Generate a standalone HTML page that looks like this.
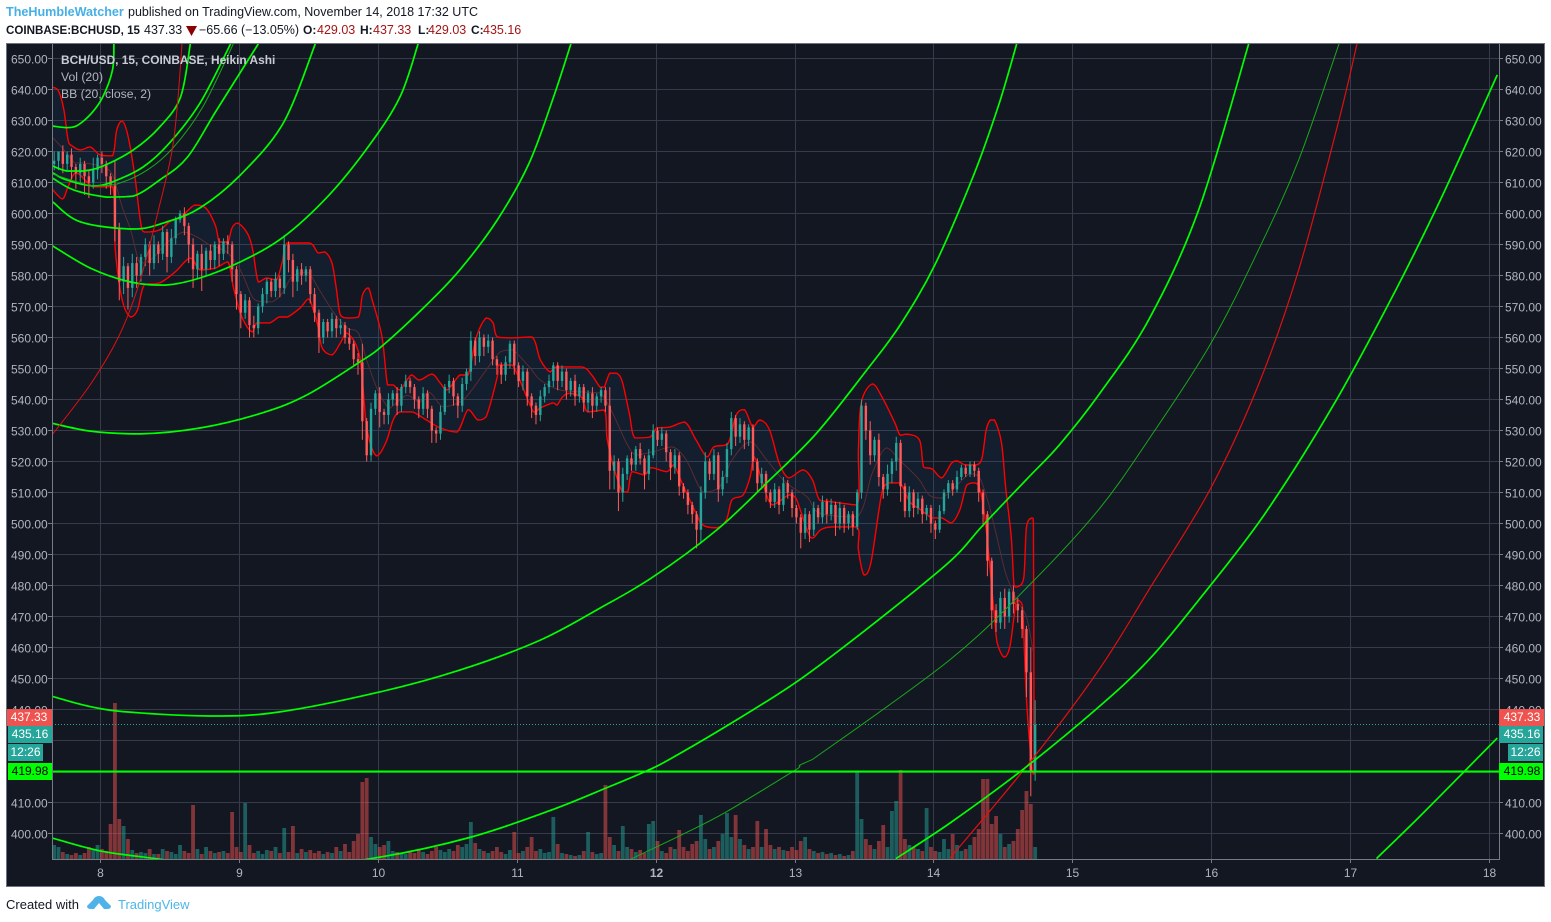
<!DOCTYPE html>
<html>
<head>
<meta charset="utf-8">
<title>BCHUSD chart</title>
<style>
html,body{margin:0;padding:0;background:#fff;width:1551px;height:922px;overflow:hidden}
svg{display:block;font-family:"Liberation Sans",sans-serif}
.ax{font-size:12px;fill:#b2b5be}
.hd{font-size:12.5px;fill:#131722}
.hdb{font-size:12px;font-weight:bold;fill:#131722}
.red{fill:#a31515}
.box{font-size:12px;text-anchor:middle}
</style>
</head>
<body>
<svg id="root" xmlns="http://www.w3.org/2000/svg" width="1551" height="922" viewBox="0 0 1551 922">
  <text x="6" y="16" style="font-size:12.6px;fill:#45b0e6;font-weight:bold">TheHumbleWatcher</text>
  <text x="128" y="16" class="hd">published on TradingView.com, November 14, 2018 17:32 UTC</text>
  <text x="6" y="34" style="font-size:11.6px;font-weight:bold;fill:#131722">COINBASE:BCHUSD, 15</text>
  <text x="144" y="34" class="hd">437.33</text>
  <polygon points="186,26 197,26 191.5,36" fill="#8b0000"/>
  <text x="199" y="34" class="hd">−65.66 (−13.05%)</text>
  <text y="34" class="hd"><tspan x="303" class="hdb">O:</tspan><tspan x="317" class="red">429.03</tspan><tspan x="360" class="hdb">H:</tspan><tspan x="373" class="red">437.33</tspan><tspan x="418" class="hdb">L:</tspan><tspan x="428" class="red">429.03</tspan><tspan x="471" class="hdb">C:</tspan><tspan x="483" class="red">435.16</tspan></text>

  <rect x="6.5" y="43.5" width="1538" height="843" fill="#131722" stroke="#6f7280"/>
  <defs><clipPath id="plotClip"><rect x="52" y="44" width="1447" height="815"/></clipPath></defs>
  <g id="gridLayer"></g>
  <g id="plotLayer" clip-path="url(#plotClip)"></g>
  <g id="axisLayer"></g>

  <text x="61" y="64" style="font-size:11.9px;font-weight:bold;fill:#c9ccd4">BCH/USD, 15, COINBASE, Heikin Ashi</text>
  <text x="61" y="81" style="font-size:12.2px;fill:#b2b5be">Vol (20)</text>
  <text x="61" y="98" style="font-size:12.2px;fill:#b2b5be">BB (20, close, 2)</text>

  <g>
    <rect x="7" y="709" width="45" height="17" fill="#ef5350"/>
    <text x="29" y="721" class="box" fill="#fff">437.33</text>
    <rect x="8" y="726" width="44" height="17" fill="#26a69a"/>
    <text x="30" y="738" class="box" fill="#fff">435.16</text>
    <rect x="8" y="744" width="35" height="17" fill="#26a69a"/>
    <text x="25.5" y="756" class="box" fill="#fff">12:26</text>
    <rect x="8" y="763" width="44" height="17" fill="#00ff00"/>
    <text x="30" y="775" class="box" fill="#000">419.98</text>
  </g>
  <g>
    <rect x="1499" y="709" width="45" height="17" fill="#ef5350"/>
    <text x="1522" y="721" class="box" fill="#fff">437.33</text>
    <rect x="1499" y="726" width="44" height="17" fill="#26a69a"/>
    <text x="1522" y="738" class="box" fill="#fff">435.16</text>
    <rect x="1508" y="744" width="35" height="17" fill="#26a69a"/>
    <text x="1525.5" y="756" class="box" fill="#fff">12:26</text>
    <rect x="1499" y="763" width="44" height="17" fill="#00ff00"/>
    <text x="1522" y="775" class="box" fill="#000">419.98</text>
  </g>

  <text x="6" y="909" style="font-size:13px;fill:#131722">Created with</text>
  <path d="M87 906 L93 900 Q95 896 99 896 Q103 896 105 900 L111 906 Q111 909 107 909 L104 909 L99 903 L94 909 L91 909 Q87 909 87 906 Z" fill="#4fb3e8"/>
  <text x="118" y="909" style="font-size:13px;fill:#4db6e8">TradingView</text>
</svg>
<script>
var priceTicks = [650,640,630,620,610,600,590,580,570,560,550,540,530,520,510,500,490,480,470,460,450,440,430,420,410,400];
var hiddenPriceLabels = [430,420];
var dayTicks = [8,9,10,11,12,13,14,15,16,17,18];
var lastClose = 435.16;
var levelPrice = 419.98;

var candleStartDay = 7.67;
var candleStepDays = 1/32;
var firstOpen = 616;
var closes = [
617,620,616,619,615,613,616,612,610,614,618,616,612,609,
595,578,583,576,584,580,586,590,584,590,587,594,586,592,598,600,596,590,582,587,582,588,585,590,587,591,590,
582,574,568,572,564,563,570,574,578,575,579,576,590,585,578,582,580,582,574,568,560,565,562,566,563,564,560,558,553,552,
533,522,537,542,536,535,540,542,538,544,546,544,540,537,542,537,530,529,536,544,546,541,538,545,549,559,554,560,557,559,553,551,548,552,558,
551,546,549,541,538,535,541,544,546,551,546,549,543,546,541,544,539,542,538,541,543,538,
517,520,510,516,521,519,524,521,516,522,530,527,529,523,518,522,512,510,506,503,498,510,520,516,522,511,515,524,534,528,532,527,531,
520,513,516,510,507,511,506,513,510,505,502,497,503,498,505,502,507,503,506,500,505,500,503,499,510,
538,530,522,527,515,511,516,520,526,512,504,510,505,508,503,505,500,498,504,510,513,511,515,518,516,519,517,510,503,
488,472,468,476,470,478,474,472,466,452,420,435];
var wickUp = [
3,0,2,1,2,1,2,1,2,4,1,2,1,1,8,2,3,1,3,2,1,2,1,3,1,2,1,3,1,1,2,1,2,1,3,1,2,1,2,1,2,
1,1,1,2,1,3,1,2,1,1,2,1,3,1,2,1,2,1,1,2,1,1,1,2,1,2,1,3,1,2,
6,1,2,1,2,1,2,1,2,1,2,1,1,1,2,1,1,1,2,1,2,1,1,2,1,3,1,2,1,2,1,1,1,2,1,
1,1,2,1,1,1,2,1,2,1,1,2,1,1,2,1,1,1,2,1,1,1,
6,2,1,2,1,2,1,2,1,2,2,1,2,1,1,2,1,1,1,1,1,2,3,1,2,1,2,2,2,1,2,1,1,
1,1,2,1,1,2,1,2,1,1,1,1,2,1,2,1,2,1,2,1,2,1,1,1,1,
2,1,3,1,2,1,3,1,2,1,1,2,1,2,1,1,1,1,2,1,1,1,2,1,1,1,1,1,1,
1,1,2,2,3,1,2,2,1,1,8,8];
var wickDown = [
2,3,3,2,4,5,3,6,5,2,3,3,4,3,4,6,4,7,3,4,2,3,4,2,3,2,5,2,2,1,3,6,6,3,7,2,3,3,4,2,3,
4,5,5,2,4,3,2,2,3,2,2,3,2,4,5,3,3,2,3,3,5,2,2,2,3,2,2,2,2,4,
6,2,2,2,5,3,3,2,3,2,2,2,3,3,2,3,4,3,2,1,2,3,4,2,2,3,3,2,3,2,2,3,3,2,2,
3,2,3,3,4,3,2,2,2,2,3,2,3,2,3,2,3,3,4,2,2,2,
6,6,6,3,2,2,2,2,5,2,1,2,2,3,4,2,3,2,3,3,6,4,2,2,2,4,2,2,2,3,2,3,2,
3,3,2,3,2,2,3,2,2,3,2,5,2,4,2,2,2,3,2,4,2,3,2,3,1,
2,3,3,2,3,3,2,3,3,5,2,2,3,2,3,2,3,3,1,1,2,2,1,1,1,1,2,3,4,
5,6,3,2,4,2,3,4,3,8,8,3];
var volumes = [
14,12,7,5,4,6,4,6,12,10,14,10,8,35,156,40,33,20,9,6,
7,6,10,5,5,10,8,7,5,14,8,6,54,10,5,12,8,6,7,8,
6,47,12,7,56,14,6,8,5,9,8,12,6,31,7,33,6,10,7,9,
6,8,5,7,6,12,8,15,7,18,25,77,81,22,15,12,14,18,8,7,
6,5,8,6,9,7,5,8,12,9,7,10,8,14,12,15,37,16,10,8,
6,8,12,7,5,9,27,6,8,12,22,8,10,6,7,42,15,6,5,4,
3,4,8,27,7,5,6,74,22,14,8,33,12,10,7,9,6,35,38,18,
8,6,12,10,29,12,8,15,18,44,20,10,12,18,25,46,22,44,20,14,
10,12,38,12,30,14,10,12,9,8,12,9,18,22,10,8,6,7,5,6,
4,5,3,4,8,88,40,20,14,10,18,34,12,48,58,89,20,14,12,10,
8,51,12,8,7,20,10,25,14,8,10,14,22,30,80,80,35,43,25,12,
15,18,30,49,68,55,12];

var upperDays = [7.65,7.70,7.74,7.77,7.80,7.86,7.93,8.00,8.09,8.12,8.16,8.20,8.25,8.29,8.32,8.43,8.50,8.59,8.68,8.76,8.83,8.86,8.92,8.95,8.99,9.06,9.10,9.14,9.20,9.27,9.31,9.35,9.51,9.57,9.62,9.67,9.70,9.73,9.78,9.86,9.89,9.93,9.96,10.03,10.07,10.11,10.16,10.24,10.30,10.39,10.45,10.50,10.59,10.65,10.71,10.78,10.83,10.86,10.97,11.11,11.17,11.24,11.29,11.47,11.54,11.60,11.63,11.67,11.72,11.76,11.81,11.85,11.96,12.01,12.10,12.21,12.29,12.37,12.42,12.52,12.58,12.64,12.70,12.75,12.82,12.89,12.96,13.06,13.13,13.18,13.27,13.45,13.46,13.48,13.56,13.63,13.72,13.76,13.81,13.90,13.93,13.99,14.06,14.13,14.17,14.23,14.31,14.35,14.38,14.41,14.44,14.49,14.52,14.56,14.58,14.60,14.65,14.67,14.71,14.72,14.725];
var upperPrices = [640.8,639.6,633.4,623.7,621.8,620.5,621.5,618.9,618.6,626.9,629.8,625.3,612.4,597.9,594,594.7,597.3,599.2,602.7,601.8,596.2,590.8,590.8,595.3,596.9,593.7,588.2,577.9,579.2,578.5,584,590.5,590.5,587.3,587.6,584,576.3,567.3,566.3,566.6,573.7,576,572.1,560.2,544.7,544.7,543.1,547.9,546.3,548.2,545.3,543.1,547.9,547.9,560.2,566.3,564.7,560.2,559.9,560.2,552.8,548.9,550.5,550.5,547.9,544,544,548.5,548.5,545.7,535.7,527.6,527.9,530.8,531.1,532.7,527,521.5,524.7,525.7,535,536.7,531.1,533.4,530.2,519.5,514.7,517.3,514,507.6,507,506,523.7,538.9,545,540.8,532.7,528.5,528.8,526.9,518.2,517.6,514.7,519.5,520.2,518.9,518.9,521.1,530.2,533.4,533.4,526,511.8,495.7,480.2,479.5,482.4,498.9,501.8,500.2,419];
var lowerDays = [7.66,7.73,7.77,7.83,7.95,8.09,8.11,8.16,8.22,8.27,8.32,8.43,8.54,8.65,8.72,8.83,8.92,8.96,9.01,9.06,9.10,9.13,9.22,9.29,9.35,9.44,9.50,9.53,9.57,9.60,9.67,9.73,9.78,9.87,9.92,9.99,10.06,10.11,10.16,10.25,10.35,10.45,10.57,10.65,10.72,10.78,10.86,10.87,10.97,11.12,11.17,11.26,11.29,11.33,11.38,11.47,11.51,11.63,11.65,11.69,11.72,11.76,11.80,11.83,11.92,11.97,12.08,12.13,12.19,12.29,12.34,12.44,12.51,12.55,12.63,12.68,12.71,12.77,12.84,12.96,13.01,13.09,13.13,13.19,13.27,13.45,13.46,13.50,13.55,13.63,13.68,13.76,13.83,13.90,13.99,14.06,14.13,14.19,14.24,14.29,14.33,14.37,14.40,14.44,14.46,14.51,14.55,14.58,14.60,14.64,14.67,14.71,14.72];
var lowerPrices = [607.6,604.7,608.6,613.1,608.6,608.6,588.2,572.1,566.6,568.9,577,577.6,581.1,585.6,581.8,582.4,584.4,576.3,567.9,563.4,561.8,564.7,564.7,566.6,566.6,569.5,572.4,569.8,563.4,556.6,554.4,558.2,561.4,553.7,531.1,521.8,526.3,533.4,536,536,533.4,530.8,529.5,536.7,533.4,534.4,547.3,551.1,551.1,536,537.3,538.9,538.2,540.8,542,540.5,536,536.6,527.6,519.5,515,510.2,510.2,516.7,515.7,518,516.7,518.9,513.1,503.4,499.5,498.6,501.2,507.6,509.2,515,521.5,513.1,506,509.2,508.2,498,495.3,498,498.9,498.9,491.5,483.4,487.3,510.2,513.1,513.1,507,504.7,501.8,501.8,500.2,504.4,512.4,513.1,511.8,502.1,489.2,469.8,461.4,456.9,460.2,469.8,475.3,473.7,443,420.5,419];
var basisDays = [7.66,7.73,7.82,7.89,8.02,8.09,8.16,8.22,8.27,8.30,8.38,8.48,8.60,8.70,8.79,8.91,9.01,9.10,9.17,9.24,9.32,9.38,9.49,9.58,9.68,9.78,9.86,9.92,9.99,10.06,10.09,10.21,10.30,10.37,10.47,10.59,10.66,10.78,10.88,10.97,11.09,11.17,11.31,11.49,11.60,11.69,11.79,11.86,11.98,12.12,12.22,12.34,12.46,12.55,12.68,12.80,12.94,13.09,13.18,13.45,13.56,13.66,13.76,13.83,13.90,13.97,14.06,14.17,14.26,14.33,14.39,14.45,14.52,14.60,14.67,14.72];
var basisPrices = [624.4,621.1,616.3,616.3,615,612.4,602.1,594.7,586,584,585.6,590.5,594,592.4,589.8,587.6,581.8,572.8,571.5,571.5,574.7,579.5,581.1,575.3,568.2,563.1,561.4,552.7,544,538.2,537.3,541.4,539.2,542.4,537.6,539.2,542.1,549.5,555.3,556,550.5,546.3,543.1,542.4,542.1,535.7,526,522.1,523.1,524.7,520.5,510.2,511.8,520.5,526.3,520.5,513.1,508.6,503.4,502.1,516.3,524.4,520.2,517.3,514,509.2,508.2,512.4,516,515,507.6,497,484,475.3,469.8,458.2];

var arcSmallDays = [7.66,7.76,7.84,7.94,8.02,8.09,8.10];
var arcSmallPrices = [628.2,627.7,628.5,632.4,637.6,646.3,654.7];
var arcBDays = [7.66,7.76,7.88,8.02,8.24,8.43,8.58,8.65];
var arcBPrices = [615.3,613.7,613.7,615.3,620.5,627.9,637.6,654.7];
var arcCDays = [7.66,7.76,7.95,8.09,8.31,8.50,8.72,8.94];
var arcCPrices = [613.1,610.8,608.9,610.2,615,622.7,635.6,654.7];
var arcCThinDays = [7.66,7.95,8.12,8.34,8.53,8.74,8.96];
var arcCThinPrices = [612.7,608.9,609.5,614,621.4,634.4,654.7];
var arcDDays = [7.66,7.81,8.05,8.24,8.43,8.63,8.84,9.14];
var arcDPrices = [611.4,607.6,605.3,605.6,610.8,618.2,633.4,654.7];
var arcEDays = [7.66,7.86,8.24,8.48,8.72,9.01,9.32,9.55];
var arcEPrices = [603.7,597.3,595,597.3,601.8,612.4,629.2,654.7];
var arcFDays = [7.65,7.93,8.22,8.47,8.72,9.01,9.32,9.65,9.94,10.16,10.29];
var arcFPrices = [589.8,582.4,577.9,576.9,579.2,584.4,592.4,606,622.1,637.6,654.7];
var arcGDays = [7.65,7.93,8.29,8.72,9.17,9.49,9.87,10.04,10.35,10.59,10.86,11.09,11.27,11.39];
var arcGPrices = [532.4,529.8,528.9,530.8,535.7,541.5,552.1,557.6,570.5,581.8,597.9,616.3,638.2,654.7];
var arcHDays = [7.65,8.07,8.79,9.29,10.01,10.59,11.17,11.60,11.98,12.44,12.80,13.16,13.52,13.76,14.01,14.29,14.47,14.60];
var arcHPrices = [444.3,439.8,437.9,439.2,445.6,452.7,462.4,472.7,482.7,497.9,513.1,529.2,549.5,564,583.4,612.4,635,654.7];
var arcIDays = [7.65,8.00,8.40,9.15,9.99,10.66,11.24,11.65,11.94,12.10,12.53,13.04,13.61,14.12,14.35,14.67,14.91,15.19,15.55,15.91,16.27];
var arcIPrices = [398.6,394.4,391.9,387.7,392.2,398.7,407.4,414.8,420.3,423.9,435.2,449.7,469.1,487.8,499.1,514.2,525.5,541.5,565.7,601.2,654.7];
var arcJThinDays = [11.60,11.83,12.19,12.51,13.00,13.13,14.12,14.71,15.19,15.55,15.99,16.34,16.63,16.92];
var arcJThinPrices = [386.7,391.9,399.6,407,420.3,423.9,456.1,481,504.5,527.1,557.5,588.2,617.3,654.7];
var arcRedLeftDays = [7.65,7.93,8.14,8.29,8.43,8.52,8.56,8.59];
var arcRedLeftPrices = [528.3,544.8,560.8,578.6,602.8,620.5,636.6,654.7];
var arcRedRightDays = [14.12,14.69,15.19,15.55,15.99,16.34,16.63,16.92,17.05];
var arcRedRightPrices = [392.1,422.7,452.7,478.5,510.8,544.7,581.8,630.2,654.7];
var arcKDays = [13.73,14.12,14.64,15.19,15.55,15.91,16.38,16.88,17.31,17.65,18.06];
var arcKPrices = [391.9,403.4,420.5,440.8,456,475.3,502.7,538.2,573.7,604.4,644.7];
var arcLDays = [17.19,17.49,17.82,18.06];
var arcLPrices = [391.9,405,419.9,430.8];

var NS = 'http://www.w3.org/2000/svg';
var plot = document.getElementById('plotLayer');
var grid = document.getElementById('gridLayer');
var axisG = document.getElementById('axisLayer');
function xDay(d){return 100+(d-8)*138.9;}
function yPrice(p){return 58.5+(650-p)*3.1;}
function yVol(v){return 859-v;}
function make(tag,parent,attrs){
  var el=document.createElementNS(NS,tag);
  for(var k in attrs){el.setAttribute(k,attrs[k]);}
  parent.appendChild(el);
  return el;
}
function clampY(v,p,q){var lo=Math.min(p,q),hi=Math.max(p,q);return Math.min(hi,Math.max(lo,v));}
function smooth(days,prices){
  var p=days.map(function(d,i){return [xDay(d),yPrice(prices[i])];});
  var s='M'+p[0][0].toFixed(1)+' '+p[0][1].toFixed(1);
  for(var i=0;i<p.length-1;i++){
    var a=p[i-1]||p[i],b=p[i],c=p[i+1],e=p[i+2]||c;
    var c1y=clampY(b[1]+(c[1]-a[1])/6,b[1],c[1]);
    var c2y=clampY(c[1]-(e[1]-b[1])/6,b[1],c[1]);
    s+=' C'+(b[0]+(c[0]-a[0])/6).toFixed(1)+' '+c1y.toFixed(1)+' '+(c[0]-(e[0]-b[0])/6).toFixed(1)+' '+c2y.toFixed(1)+' '+c[0].toFixed(1)+' '+c[1].toFixed(1);
  }
  return s;
}

/* grid and axes */
priceTicks.forEach(function(p){
  var y=yPrice(p);
  var g=make('line',grid,{x1:52,x2:1499,y1:y,y2:y,stroke:'#363a4a','stroke-width':1});
  
  
  var tl=make('line',axisG,{x1:48,x2:52,y1:y,y2:y,stroke:'#787b86'});
  
  
  var tr=make('line',axisG,{x1:1499,x2:1503,y1:y,y2:y,stroke:'#787b86'});
  
  
  if(hiddenPriceLabels.indexOf(p)<0){
    var a=make('text',axisG,{x:11,y:y+5,'class':'ax'});
    a.textContent=p.toFixed(2);
    
    
    var b=make('text',axisG,{x:1505,y:y+5,'class':'ax'});
    b.textContent=p.toFixed(2);
    
    
  }
});
dayTicks.forEach(function(d){
  var x=Math.round(xDay(d))+0.5;
  var g=make('line',grid,{x1:x,x2:x,y1:44,y2:859,stroke:'#363a4a','stroke-width':1});
  
  
  var t=make('line',axisG,{x1:x,x2:x,y1:859,y2:863,stroke:'#787b86'});
  
  
  var lb=make('text',axisG,{x:x,y:877,'class':'ax','text-anchor':'middle'});
  lb.textContent=String(d);
  if(d===12){lb.style.fontWeight='bold';}
  
  
});
[[52.5,44,52.5,859.5],[1499.5,44,1499.5,859.5],[52,859.5,1500,859.5]].forEach(function(c){
  var ax=make('line',axisG,{x1:c[0],y1:c[1],x2:c[2],y2:c[3],stroke:'#787b86'});
  
  
});

/* volume */
var step=candleStepDays;
function isUp(i){var o=i>0?closes[i-1]:firstOpen;return (closes[i]||o)>=o;}
volumes.forEach(function(v,i){
  var x=xDay(candleStartDay+i*step);
  var r=make('rect',plot,{x:(x-1.9).toFixed(2),y:yVol(v),width:3.8,height:v,fill:isUp(i)?'rgba(38,166,154,0.5)':'rgba(239,83,80,0.5)'});
  
  
});

/* Bollinger fill, bands */
var fillPts=[];
upperDays.forEach(function(d,i){fillPts.push(xDay(d).toFixed(1)+','+yPrice(upperPrices[i]).toFixed(1));});
for(var li=lowerDays.length-1;li>=0;li--){fillPts.push(xDay(lowerDays[li]).toFixed(1)+','+yPrice(lowerPrices[li]).toFixed(1));}
var bf=make('polygon',plot,{points:fillPts.join(' '),fill:'rgba(33,150,243,0.06)'});


var bu=make('path',plot,{d:smooth(upperDays,upperPrices),fill:'none',stroke:'#f00','stroke-width':1.4});


var bl=make('path',plot,{d:smooth(lowerDays,lowerPrices),fill:'none',stroke:'#f00','stroke-width':1.4});


var bb=make('path',plot,{d:smooth(basisDays,basisPrices),fill:'none',stroke:'#5c2b30','stroke-width':1});



/* candles */
closes.forEach(function(c,i){
  var o=i>0?closes[i-1]:firstOpen;
  var x=xDay(candleStartDay+i*step);
  var top=Math.max(o,c),bot=Math.min(o,c);
  var col=c>=o?'#26a69a':'#ff5a5a';
  var w=make('line',plot,{x1:x,x2:x,y1:yPrice(top+(wickUp[i]||0)),y2:yPrice(bot-(wickDown[i]||0)),stroke:col,'stroke-width':1});
  
  
  var r=make('rect',plot,{x:(x-1.2).toFixed(2),y:yPrice(top),width:2.4,height:Math.max(1,(top-bot)*3.1),fill:col});
  
  
});

/* horizontal price lines */
var cl=make('line',plot,{x1:52,x2:1499,y1:yPrice(lastClose),y2:yPrice(lastClose),stroke:'#26a69a','stroke-dasharray':'1 2'});



/* fibonacci arcs */
var thick={w:1.7,c:'#00ff00'};
function addArc(days,prices,style,name){
  var a=make('path',plot,{d:smooth(days,prices),fill:'none',stroke:style.c,'stroke-width':style.w});
  
  
}
addArc(arcSmallDays,arcSmallPrices,thick,'fib-arc-1');
addArc(arcBDays,arcBPrices,thick,'fib-arc-2');
addArc(arcCDays,arcCPrices,thick,'fib-arc-3');
addArc(arcCThinDays,arcCThinPrices,{w:1,c:'#19a819'},'fib-arc-3-thin');
addArc(arcDDays,arcDPrices,thick,'fib-arc-4');
addArc(arcEDays,arcEPrices,thick,'fib-arc-5');
addArc(arcFDays,arcFPrices,thick,'fib-arc-6');
addArc(arcGDays,arcGPrices,thick,'fib-arc-7');
addArc(arcHDays,arcHPrices,thick,'fib-arc-8');
addArc(arcIDays,arcIPrices,thick,'fib-arc-9');
addArc(arcJThinDays,arcJThinPrices,{w:1,c:'#19a819'},'fib-arc-10-thin');
addArc(arcRedLeftDays,arcRedLeftPrices,{w:1,c:'#e01010'},'fib-arc-red-left');
addArc(arcRedRightDays,arcRedRightPrices,{w:1.2,c:'#e01010'},'fib-arc-red-right');
addArc(arcKDays,arcKPrices,thick,'fib-arc-11');
addArc(arcLDays,arcLPrices,thick,'fib-arc-12');
var lv=make('line',plot,{x1:52,x2:1499,y1:yPrice(levelPrice),y2:yPrice(levelPrice),stroke:'#00ff00','stroke-width':2.2});


</script>
</body>
</html>
